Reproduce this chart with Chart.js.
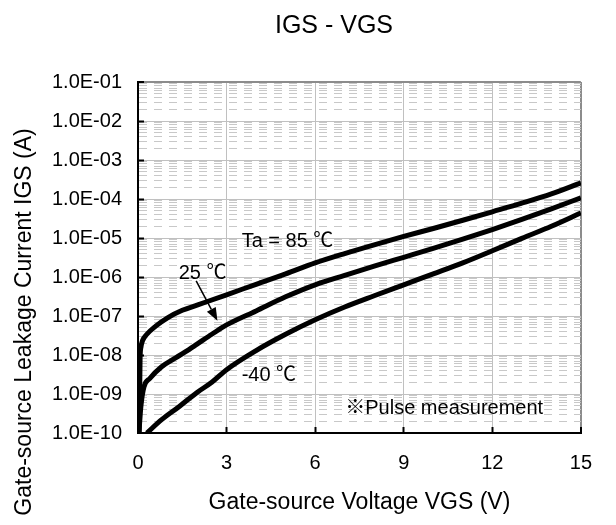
<!DOCTYPE html>
<html>
<head>
<meta charset="utf-8">
<title>IGS - VGS</title>
<script src="https://cdn.jsdelivr.net/npm/chart.js@4/dist/chart.umd.min.js"></script>
<style>
  body { margin: 0; background: #fff; }
  canvas { display: block; }
</style>
</head>
<body>
<canvas id="chart" width="616" height="525"></canvas>
<script>
// axis ticks
const xTicks = [0, 3, 6, 9, 12, 15];
const yTickLabels = ['1.0E-10', '1.0E-09', '1.0E-08', '1.0E-07', '1.0E-06',
                     '1.0E-05', '1.0E-04', '1.0E-03', '1.0E-02', '1.0E-01'];

// Ta = 85 C
const vgs85 = [0.04, 0.07, 0.1, 0.15, 0.3, 0.6, 1.0, 1.5, 2, 3, 4, 5, 6, 7, 8, 9, 10, 11, 12, 13, 14, 15];
const igs85 = [1e-10, 8e-9, 1.6e-8, 2.3e-8, 3.4e-8, 5.5e-8, 9e-8, 1.4e-7, 1.9e-7, 3.5e-7, 6.5e-7,
               1.2e-6, 2.3e-6, 4.0e-6, 6.7e-6, 1.1e-5, 1.75e-5, 2.85e-5, 4.7e-5, 7.8e-5, 1.35e-4, 2.6e-4];

// Ta = 25 C
const vgs25 = [0.03, 0.1, 0.2, 0.4, 0.8, 1.2, 1.6, 2.0, 2.5, 3, 4, 5, 6, 7, 8, 9, 10, 11, 12, 13, 14, 15];
const igs25 = [1e-10, 5e-10, 1.5e-9, 2.5e-9, 5e-9, 7.8e-9, 1.2e-8, 1.9e-8, 3.4e-8, 5.9e-8, 1.35e-7,
               3.1e-7, 6.3e-7, 1.1e-6, 1.9e-6, 3.2e-6, 5.4e-6, 9.3e-6, 1.65e-5, 3e-5, 5.6e-5, 1.07e-4];

// Ta = -40 C
const vgsM40 = [0.3, 0.8, 1.4, 2.0, 2.5, 3, 4, 5, 6, 7, 8, 9, 10, 11, 12, 13, 14, 15];
const igsM40 = [1e-10, 2.2e-10, 4.8e-10, 1.1e-9, 2.0e-9, 4.2e-9, 1.3e-8, 3.4e-8, 8e-8, 1.7e-7,
                3.3e-7, 6.3e-7, 1.2e-6, 2.3e-6, 4.7e-6, 9.8e-6, 2e-5, 4.4e-5];

const FONT = "'Liberation Sans', Arial, 'Noto Sans CJK JP', sans-serif";
Chart.defaults.font.family = FONT;
Chart.defaults.color = '#000';

function mantissa(v) {
  const e = Math.floor(Math.log10(v) + 1e-9);
  return v / Math.pow(10, e);
}
function isDecade(v) {
  return Math.abs(mantissa(v) - 1) < 1e-6;
}
function toPoints(xs, ys) {
  return xs.map((x, i) => ({ x: x, y: ys[i] }));
}

// titles, text labels and arrow drawn on top of the plot
const notesPlugin = {
  id: 'notes',
  afterDraw(chart) {
    const ctx = chart.ctx;
    const x = chart.scales.x, y = chart.scales.y;
    ctx.save();
    ctx.fillStyle = '#000';
    ctx.strokeStyle = '#000';

    // chart title
    ctx.font = '25px ' + FONT;
    ctx.textAlign = 'center';
    ctx.textBaseline = 'middle';
    ctx.fillText('IGS - VGS', 334, 26);

    // y axis title
    ctx.font = '23px ' + FONT;
    ctx.translate(25, 322);
    ctx.rotate(-Math.PI / 2);
    ctx.fillText('Gate-source Leakage Current IGS (A)', 0, 0);
    ctx.setTransform(1, 0, 0, 1, 0, 0);

    ctx.font = '20px ' + FONT;
    ctx.textAlign = 'left';
    const notes = [
      { text: 'Ta = 85 ℃', vx: 3.51, vy: 8.1e-6 },
      { text: '25 ℃', vx: 1.38, vy: 1.23e-6 },
      { text: '-40 ℃', vx: 3.51, vy: 2.9e-9 },
      { text: '※Pulse measurement', vx: 7.02, vy: 4.2e-10 }
    ];
    notes.forEach(n => {
      ctx.fillText(n.text, x.getPixelForValue(n.vx), y.getPixelForValue(n.vy));
    });

    // arrow pointing at the 25 C curve
    const x1 = x.getPixelForValue(1.97), y1 = y.getPixelForValue(8e-7);
    const x2 = x.getPixelForValue(2.69), y2 = y.getPixelForValue(7.5e-8);
    const ang = Math.atan2(y2 - y1, x2 - x1);
    const len = 13, half = 5;
    const bx = x2 - len * Math.cos(ang), by = y2 - len * Math.sin(ang);
    ctx.lineWidth = 1.5;
    ctx.beginPath();
    ctx.moveTo(x1, y1);
    ctx.lineTo(bx, by);
    ctx.stroke();
    ctx.beginPath();
    ctx.moveTo(x2, y2);
    ctx.lineTo(bx + half * Math.sin(ang), by - half * Math.cos(ang));
    ctx.lineTo(bx - half * Math.sin(ang), by + half * Math.cos(ang));
    ctx.closePath();
    ctx.fill();
    ctx.restore();
  }
};

const lineStyle = {
  borderColor: '#000',
  backgroundColor: '#000',
  borderWidth: 5,
  pointRadius: 0,
  fill: false,
  cubicInterpolationMode: 'monotone'
};

new Chart(document.getElementById('chart'), {
  type: 'line',
  data: {
    datasets: [
      Object.assign({ label: 'Ta = 85 ℃', data: toPoints(vgs85, igs85) }, lineStyle),
      Object.assign({ label: '25 ℃', data: toPoints(vgs25, igs25) }, lineStyle),
      Object.assign({ label: '-40 ℃', data: toPoints(vgsM40, igsM40) }, lineStyle)
    ]
  },
  options: {
    responsive: false,
    animation: false,
    devicePixelRatio: 1,
    layout: { padding: { left: 0, right: 21, top: 82, bottom: 0 } },
    plugins: {
      legend: { display: false },
      tooltip: { enabled: false },
      title: { display: false }
    },
    scales: {
      x: {
        type: 'linear',
        min: 0,
        max: 15,
        afterBuildTicks: scale => { scale.ticks = xTicks.map(v => ({ value: v })); },
        afterFit: scale => { scale.height = 92; },
        ticks: { autoSkip: false, maxRotation: 0, padding: 24, font: { size: 20 }, color: '#000' },
        grid: {
          color: c => c.tick && c.tick.value === 15 ? '#8c8c8c' : (c.tick && c.tick.value === 0 ? '#000' : '#c0c0c0'),
          lineWidth: c => c.tick && (c.tick.value === 15 || c.tick.value === 0) ? 2 : 1,
          drawTicks: true,
          tickLength: -6,
          tickWidth: 2,
          tickColor: '#000'
        },
        border: { color: '#000', width: 2 },
        title: {
          display: true,
          text: 'Gate-source Voltage VGS (V)',
          color: '#000',
          font: { size: 23 },
          padding: { top: 0, bottom: 9 }
        }
      },
      y: {
        type: 'logarithmic',
        min: 1e-10,
        max: 1e-1,
        afterBuildTicks: scale => {
          scale.ticks = scale.ticks.filter(t => {
            const m = mantissa(t.value);
            return Math.abs(m - Math.round(m)) < 1e-6;
          });
        },
        afterFit: scale => { scale.width = 138; },
        ticks: {
          autoSkip: false,
          padding: 22,
          font: { size: 20 },
          color: '#000',
          callback: v => isDecade(v) ? yTickLabels[Math.round(Math.log10(v)) + 10] : ''
        },
        grid: {
          color: c => {
            if (!c.tick) return '#c0c0c0';
            const v = c.tick.value;
            if (Math.abs(v - 1e-1) < 1e-9) return '#8c8c8c';
            if (Math.abs(v - 1e-10) < 1e-15) return '#000';
            return isDecade(v) ? '#c0c0c0' : '#c8c8c8';
          },
          lineWidth: c => {
            if (!c.tick) return 1;
            const v = c.tick.value;
            return (Math.abs(v - 1e-1) < 1e-9 || Math.abs(v - 1e-10) < 1e-15) ? 2 : 1;
          },
          drawTicks: true,
          tickLength: -6,
          tickWidth: 2,
          tickColor: c => c.tick && isDecade(c.tick.value) ? '#000' : 'rgba(0,0,0,0)'
        },
        border: {
          color: '#000',
          width: 2,
          dash: c => c.tick && !isDecade(c.tick.value) ? [8, 7] : []
        }
      }
    }
  },
  plugins: [notesPlugin]
});
</script>
</body>
</html>
